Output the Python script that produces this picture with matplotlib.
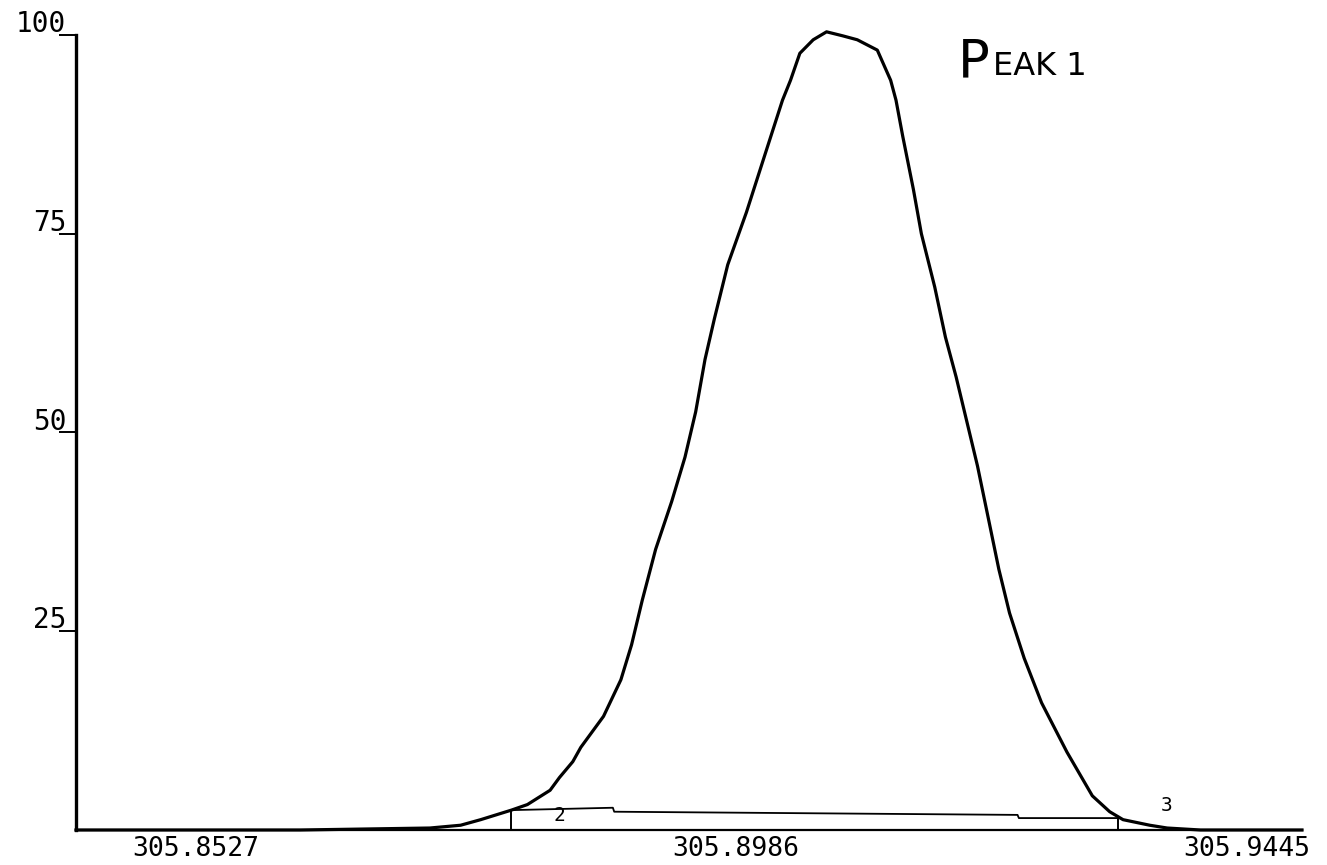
import numpy as np
import matplotlib
matplotlib.use("Agg")
import matplotlib.pyplot as plt

# peak profile (m/z, relative intensity %)
mz = [305.8527, 305.8695, 305.8792, 305.8815, 305.8830, 305.8853, 305.8865,
      305.8882, 305.8889, 305.8899, 305.8905, 305.8922, 305.8935, 305.8943,
      305.8951, 305.8961, 305.8973, 305.8983, 305.8991, 305.8998, 305.9005,
      305.9015, 305.9029, 305.9042, 305.9056, 305.9062, 305.9069, 305.9079,
      305.9089, 305.9101, 305.9112, 305.9127, 305.9137, 305.9141, 305.9146,
      305.9154, 305.9160, 305.9170, 305.9178, 305.9186, 305.9194, 305.9202,
      305.9211, 305.9218, 305.9226, 305.9237, 305.9250, 305.9269, 305.9288,
      305.9301, 305.9311, 305.9331, 305.9344, 305.9369, 305.9445]
intensity = [0, 0, 0.25, 0.6, 1.3, 2.5, 3.2,
             5.0, 6.6, 8.6, 10.4, 14.3, 18.9, 23.3,
             28.9, 35.3, 41.3, 46.9, 52.6, 59.2, 64.3,
             71.1, 77.7, 84.5, 91.8, 94.3, 97.7, 99.4,
             100.4, 99.9, 99.4, 98.1, 94.3, 91.8, 87.3,
             80.6, 75.0, 68.3, 62.0, 57.0, 51.4, 45.8,
             38.5, 32.8, 27.3, 21.6, 16.0, 9.8, 4.3,
             2.3, 1.3, 0.6, 0.25, 0, 0]

# integration baseline between markers 2 and 3
base_mz = [305.8853, 305.8929, 305.8930, 305.9232, 305.9233, 305.9307]
base_int = [2.5, 2.8, 2.3, 1.9, 1.5, 1.5]
marker_mz = [305.8853, 305.9307]
marker_int = [2.5, 1.5]
marker_labels = ["2", "3"]
marker_text_mz = [305.8889, 305.9344]
marker_text_int = [0.6, 1.9]

yticks = [25, 50, 75, 100]
xtick_vals = [305.8527, 305.8986, 305.9445]
xtick_labels = ["305.8527", "305.8986", "305.9445"]
xtick_shift = [86, 34, -40]   # label offsets (points) as printed

fig = plt.figure(figsize=(13.27, 8.65), dpi=100)
ax = fig.add_axes([76/1327, 35/865, 1226/1327, 795/865])
ax.set_xlim(305.8527, 305.9445)
ax.set_ylim(0, 100)

for s in ["top", "right"]:
    ax.spines[s].set_visible(False)
ax.spines["left"].set_linewidth(2.4)
ax.spines["bottom"].set_linewidth(1.6)

ax.set_yticks(yticks)
ax.set_yticklabels([])
ax.tick_params(axis="y", direction="out", length=12, width=1.4)
ax.set_xticks([])

mono = "DejaVu Sans Mono"
for v in yticks:
    ax.annotate(str(v), xy=(0, v), xycoords=("axes fraction", "data"),
                xytext=(-7, 2), textcoords="offset points",
                ha="right", va="baseline", fontsize=20, family=mono)

for v, lab, dx in zip(xtick_vals, xtick_labels, xtick_shift):
    ax.annotate(lab, xy=(v, 0), xycoords="data",
                xytext=(dx, -4), textcoords="offset points",
                ha="center", va="top", fontsize=19, family=mono,
                annotation_clip=False)

ax.plot(mz, intensity, color="black", lw=2.3, clip_on=False)
ax.plot(base_mz, base_int, color="black", lw=1.3)
ax.vlines(marker_mz, 0, marker_int, color="black", lw=1.4)
for x, y, t in zip(marker_text_mz, marker_text_int, marker_labels):
    ax.text(x, y, t, fontsize=14, family=mono, ha="center", va="bottom")

# handwritten label
ax.text(305.9187, 94.7, "P", fontsize=38, ha="left", va="baseline")
ax.text(305.9214, 95.0, "EAK 1", fontsize=23, ha="left", va="baseline")

fig.savefig("out.png", dpi=100)
